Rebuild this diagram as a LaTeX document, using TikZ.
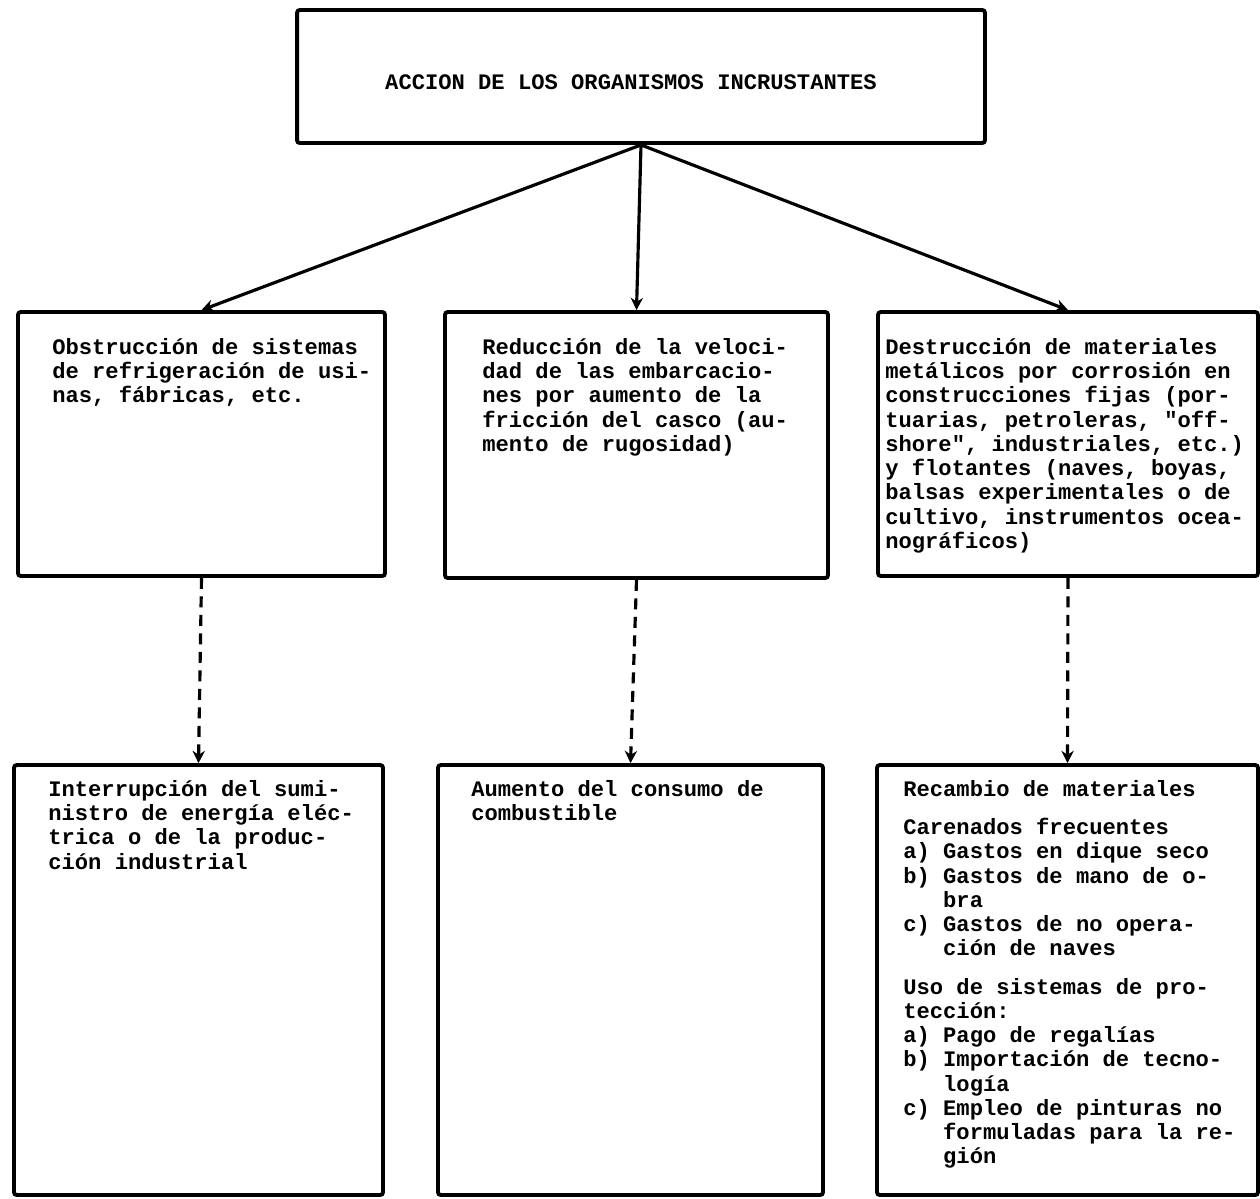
\documentclass[tikz,border=0pt]{standalone}
\usepackage{fontspec}
\setmonofont{Liberation Mono}
\usetikzlibrary{arrows.meta}

\begin{document}
\begin{tikzpicture}[x=0.02cm,y=-0.02cm,
  caja/.style={draw,line width=2.2pt,rounded corners=1.5pt,inner sep=0pt},
  texto/.style={anchor=north west,inner sep=0pt,align=left,
    font=\ttfamily\bfseries\fontsize{12.6}{13.8}\selectfont},
  flecha/.style={line width=1.8pt,-{Stealth[length=7pt,width=7pt]}},
  punteada/.style={flecha,dash pattern=on 0.22cm off 0.15cm}]
\useasboundingbox (0,0) rectangle (1260,1198);
% Draw the top box
\node[caja,minimum width=13.76cm,minimum height=2.66cm] (accion) at (641,76.5) {};
\node[texto,anchor=center] (acciontxt) at (631,82) {ACCION DE LOS ORGANISMOS INCRUSTANTES};
% Draw the middle row of boxes
\node[caja,minimum width=7.34cm,minimum height=5.28cm] (obst) at (201.5,444) {};
\node[caja,minimum width=7.66cm,minimum height=5.32cm] (redu) at (636.5,445) {};
\node[caja,minimum width=7.60cm,minimum height=5.28cm] (dest) at (1068,444) {};
% Draw the bottom row of boxes
\node[caja,minimum width=7.38cm,minimum height=8.60cm] (inte) at (198.5,980) {};
\node[caja,minimum width=7.70cm,minimum height=8.60cm] (aume) at (630.5,980) {};
\node[caja,minimum width=7.62cm,minimum height=8.60cm] (reca) at (1067.5,980) {};
% Texts of the boxes
\node[texto] (obsttxt) at (52,338) {Obstrucción de sistemas\\de refrigeración de usi-\\nas, fábricas, etc.};
\node[texto] (redutxt) at (482,338) {Reducción de la veloci-\\dad de las embarcacio-\\nes por aumento de la\\fricción del casco (au-\\mento de rugosidad)};
\node[texto] (desttxt) at (885,338) {Destrucción de materiales\\metálicos por corrosión en\\construcciones fijas (por-\\tuarias, petroleras, "off-\\shore", industriales, etc.)\\y flotantes (naves, boyas,\\balsas experimentales o de\\cultivo, instrumentos ocea-\\nográficos)};
\node[texto] (intetxt) at (48,780) {Interrupción del sumi-\\nistro de energía eléc-\\trica o de la produc-\\ción industrial};
\node[texto] (aumetxt) at (471,780) {Aumento del consumo de\\combustible};
\node[texto] (recatxt) at (903,780) {Recambio de materiales\\[0.28cm]
  Carenados frecuentes\\
  a) Gastos en dique seco\\
  b) Gastos de mano de o-\\
  \hspace*{1.8em}bra\\
  c) Gastos de no opera-\\
  \hspace*{1.8em}ción de naves\\[0.28cm]
  Uso de sistemas de pro-\\
  tección:\\
  a) Pago de regalías\\
  b) Importación de tecno-\\
  \hspace*{1.8em}logía\\
  c) Empleo de pinturas no\\
  \hspace*{1.8em}formuladas para la re-\\
  \hspace*{1.8em}gión};
% Solid arrows from the top box
\draw[flecha] (accion.south) -- (obst.north);
\draw[flecha] (accion.south) -- (redu.north);
\draw[flecha] (accion.south) -- (dest.north);
% Dashed arrows to the bottom row
\draw[punteada] (obst.south) -- (inte.north);
\draw[punteada] (redu.south) -- (aume.north);
\draw[punteada] (dest.south) -- (reca.north);
\end{tikzpicture}
\end{document}
